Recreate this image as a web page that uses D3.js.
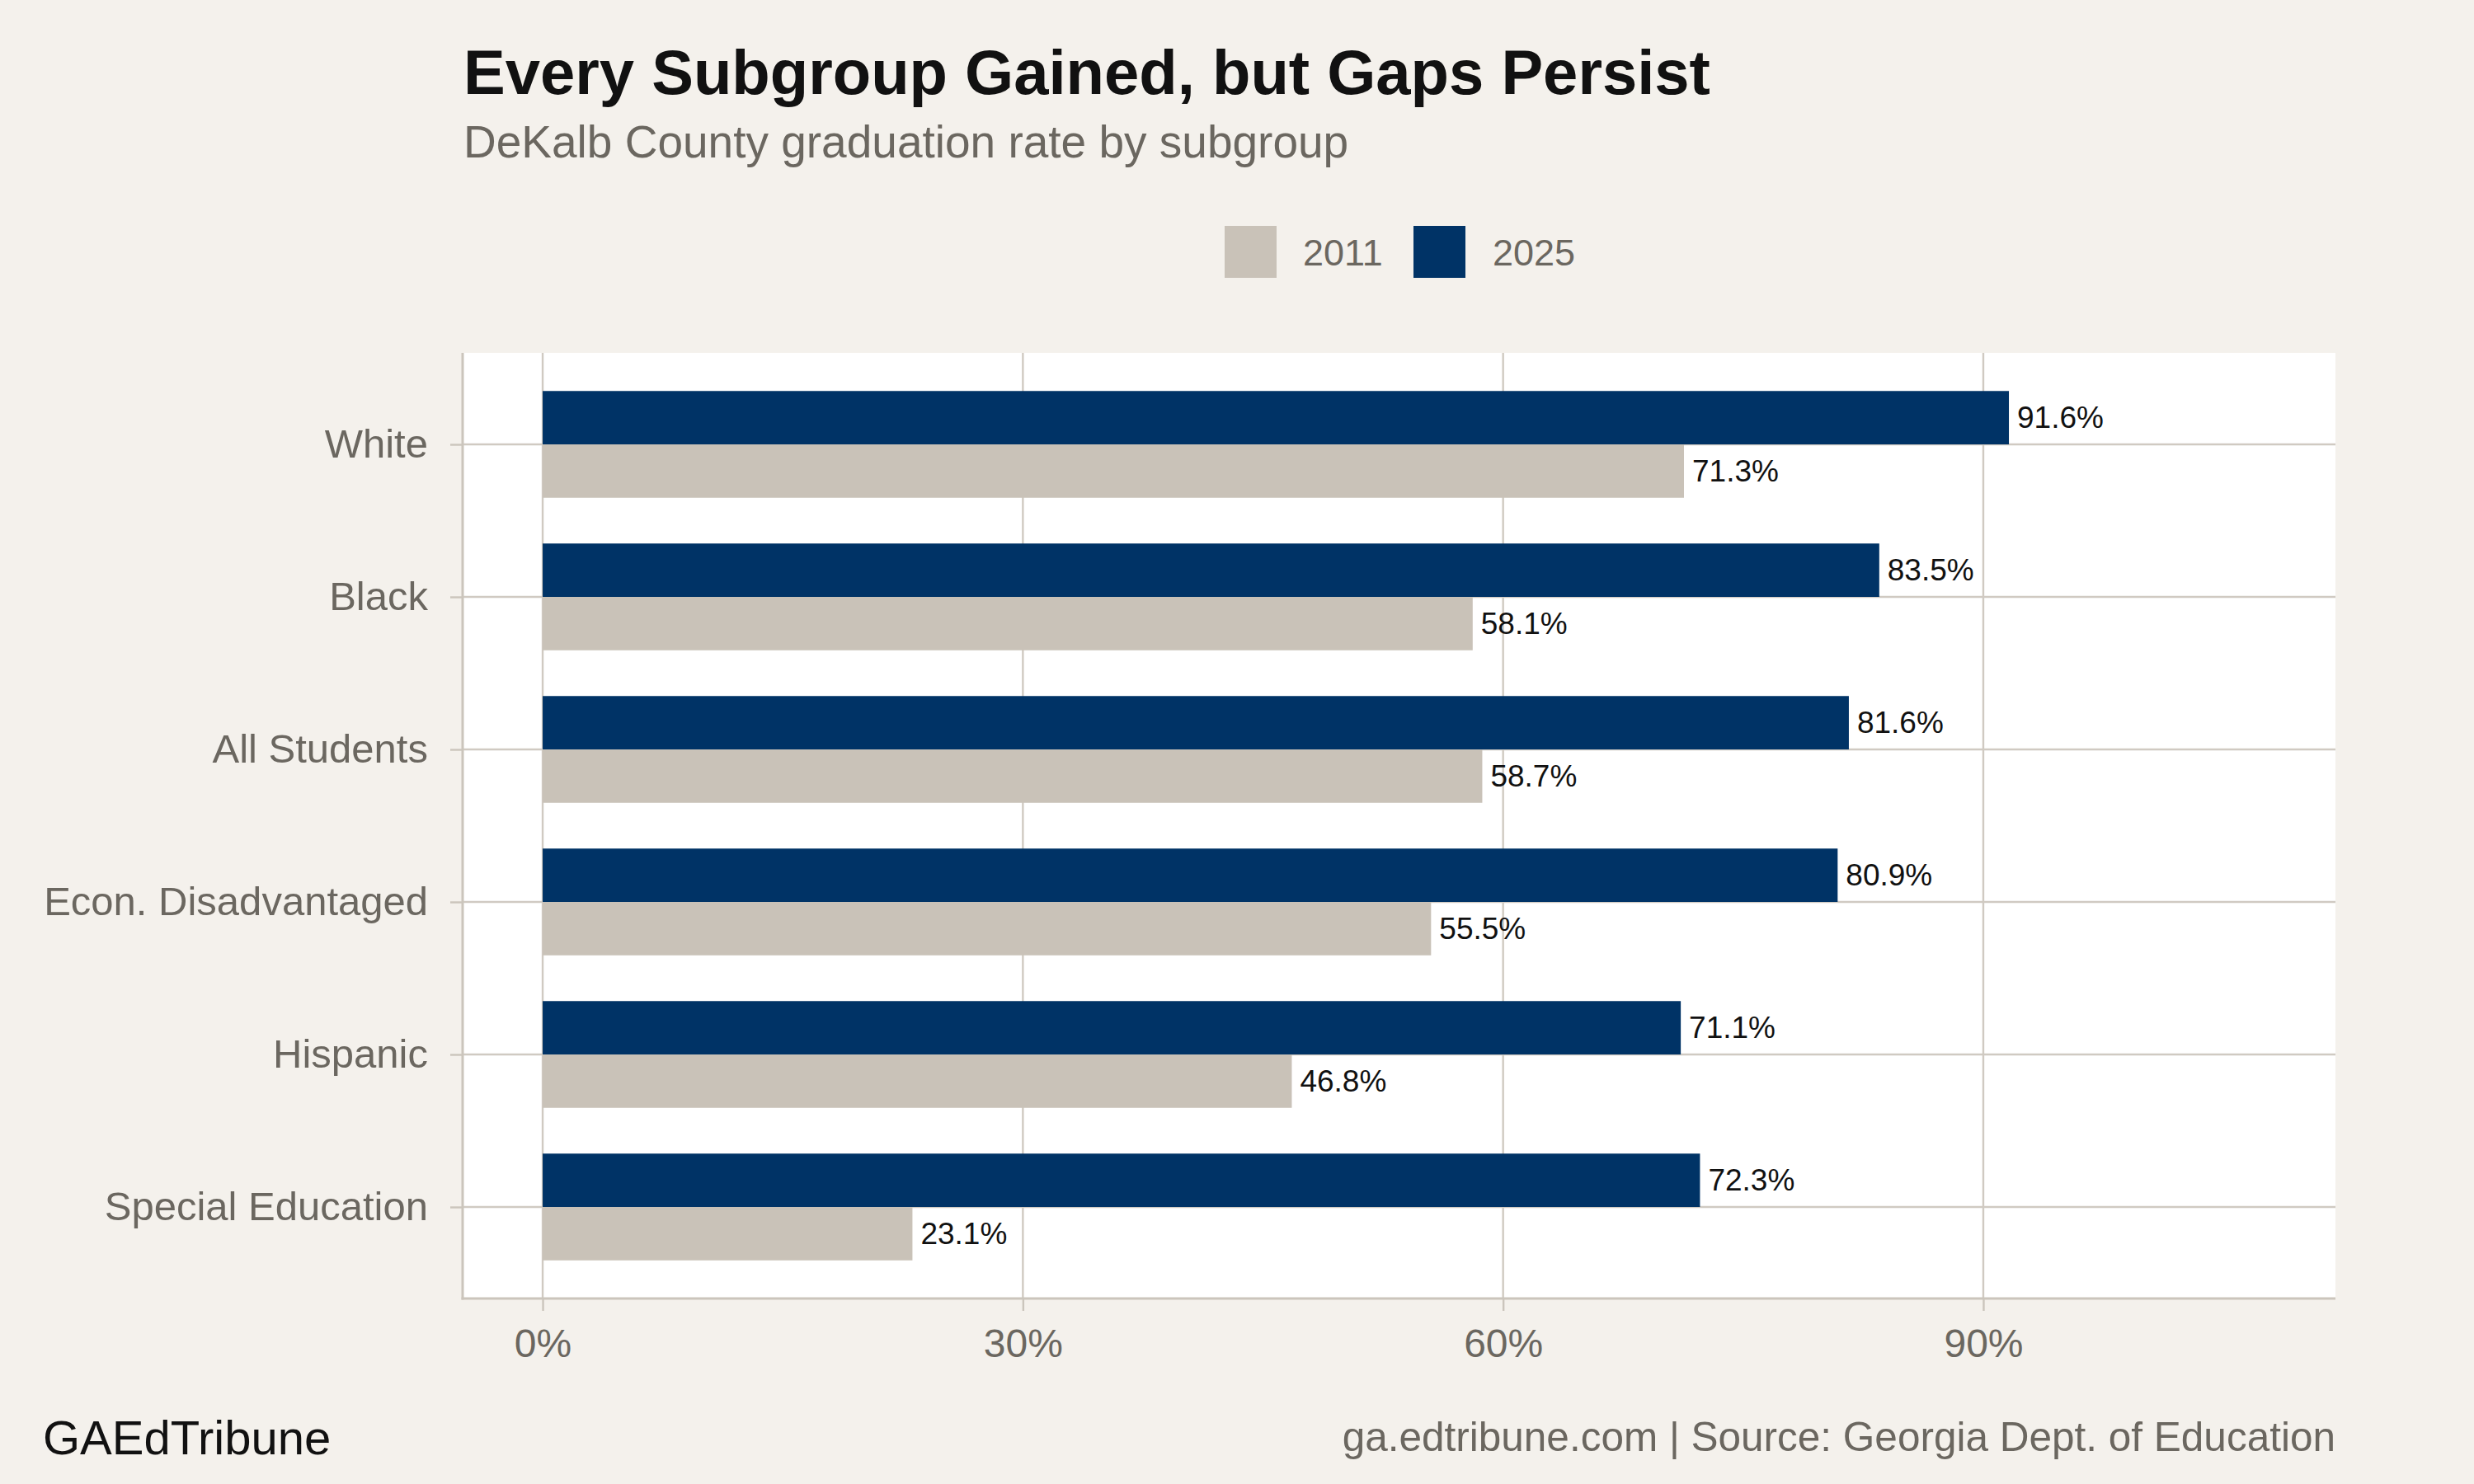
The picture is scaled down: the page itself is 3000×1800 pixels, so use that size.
<!DOCTYPE html>
<html>
<head>
<meta charset="utf-8">
<script src="https://cdn.jsdelivr.net/npm/d3@7"></script>
<style>
  html, body { margin: 0; padding: 0; background: #f4f1ec; }
  svg { display: block; }
  text { font-family: "Liberation Sans", Arial, Helvetica, sans-serif; }
</style>
</head>
<body>
<svg id="chart" width="3000" height="1800"></svg>
<script>
// ---- data ----
const categories = ["White", "Black", "All Students", "Econ. Disadvantaged", "Hispanic", "Special Education"];
const values2011 = [71.3, 58.1, 58.7, 55.5, 46.8, 23.1];
const values2025 = [91.6, 83.5, 81.6, 80.9, 71.1, 72.3];
const seriesNames = ["2011", "2025"];
const xTicks = [0, 30, 60, 90];
const xTickLabels = ["0%", "30%", "60%", "90%"];

const titleText = "Every Subgroup Gained, but Gaps Persist";
const subtitleText = "DeKalb County graduation rate by subgroup";
const brandText = "GAEdTribune";
const sourceText = "ga.edtribune.com | Source: Georgia Dept. of Education";

// ---- style ----
const W = 3000, H = 1800;
const bg = "#f4f1ec";
const colors = { "2011": "#c9c2b8", "2025": "#003366" };
const gridColor = "#d0cac2";
const axisColor = "#cbc5bc";
const mutedText = "#6b6760";

const panel = { left: 561, right: 2832, top: 428, bottom: 1575 };

const svg = d3.select("#chart");
svg.append("rect").attr("width", W).attr("height", H).attr("fill", bg);

const x = d3.scaleLinear().domain([-5, 112]).range([panel.left, panel.right]);
const y = d3.scalePoint().domain(categories).range([panel.top, panel.bottom]).padding(0.6);
const step = y.step();
const barH = step * 0.35;

// panel background
svg.append("rect")
  .attr("x", panel.left).attr("y", panel.top)
  .attr("width", panel.right - panel.left).attr("height", panel.bottom - panel.top)
  .attr("fill", "#ffffff");

// gridlines
const grid = svg.append("g");
grid.selectAll("line.v").data(xTicks).join("line")
  .attr("x1", d => x(d)).attr("x2", d => x(d))
  .attr("y1", panel.top).attr("y2", panel.bottom)
  .attr("stroke", gridColor).attr("stroke-width", 2.4);
grid.selectAll("line.h").data(categories).join("line")
  .attr("x1", panel.left).attr("x2", panel.right)
  .attr("y1", d => y(d)).attr("y2", d => y(d))
  .attr("stroke", gridColor).attr("stroke-width", 2.4);

// bars
const rows = categories.map((c, i) => ({ cat: c, v2011: values2011[i], v2025: values2025[i] }));
const bars = svg.append("g");
bars.selectAll("rect.b25").data(rows).join("rect")
  .attr("x", x(0)).attr("y", d => y(d.cat) - barH)
  .attr("width", d => x(d.v2025) - x(0)).attr("height", barH)
  .attr("fill", colors["2025"]);
bars.selectAll("rect.b11").data(rows).join("rect")
  .attr("x", x(0)).attr("y", d => y(d.cat))
  .attr("width", d => x(d.v2011) - x(0)).attr("height", barH)
  .attr("fill", colors["2011"]);

// value labels
const labels = svg.append("g").attr("font-size", 37).attr("fill", "#111");
labels.selectAll("text.l25").data(rows).join("text")
  .attr("x", d => x(d.v2025) + 10).attr("y", d => y(d.cat) - barH / 2)
  .attr("dominant-baseline", "central")
  .text(d => d.v2025.toFixed(1) + "%");
labels.selectAll("text.l11").data(rows).join("text")
  .attr("x", d => x(d.v2011) + 10).attr("y", d => y(d.cat) + barH / 2)
  .attr("dominant-baseline", "central")
  .text(d => d.v2011.toFixed(1) + "%");

// axes
const xAxis = d3.axisBottom(x).tickValues(xTicks).tickFormat((d, i) => xTickLabels[i])
  .tickSize(15).tickPadding(22);
const gx = svg.append("g").attr("transform", `translate(0,${panel.bottom})`).call(xAxis);
gx.select(".domain").remove();
gx.selectAll(".tick line").attr("stroke", axisColor).attr("stroke-width", 2.4);
gx.selectAll(".tick text").attr("fill", mutedText).attr("font-size", 48)
  .attr("font-family", "Liberation Sans, Arial, sans-serif");

const yAxis = d3.axisLeft(y).tickSize(15).tickPadding(27);
const gy = svg.append("g").attr("transform", `translate(${panel.left},0)`).call(yAxis);
gy.select(".domain").remove();
gy.selectAll(".tick line").attr("stroke", axisColor).attr("stroke-width", 2.4);
gy.selectAll(".tick text").attr("fill", mutedText).attr("font-size", 49)
  .attr("font-family", "Liberation Sans, Arial, sans-serif");

// axis lines
svg.append("line").attr("x1", panel.left).attr("x2", panel.left)
  .attr("y1", panel.top).attr("y2", panel.bottom + 1.5)
  .attr("stroke", axisColor).attr("stroke-width", 3);
svg.append("line").attr("x1", panel.left - 1.5).attr("x2", panel.right)
  .attr("y1", panel.bottom).attr("y2", panel.bottom)
  .attr("stroke", axisColor).attr("stroke-width", 3);

// title and subtitle
svg.append("text").attr("x", 562).attr("y", 114)
  .attr("font-size", 76).attr("font-weight", "bold").attr("fill", "#111")
  .text(titleText);
svg.append("text").attr("x", 562).attr("y", 191)
  .attr("font-size", 55).attr("fill", mutedText)
  .text(subtitleText);

// legend
const legendItems = [
  { name: seriesNames[0], sx: 1485, tx: 1580 },
  { name: seriesNames[1], sx: 1714, tx: 1810 }
];
const lg = svg.append("g");
lg.selectAll("rect").data(legendItems).join("rect")
  .attr("x", d => d.sx).attr("y", 274).attr("width", 63).attr("height", 63)
  .attr("fill", d => colors[d.name]);
lg.selectAll("text").data(legendItems).join("text")
  .attr("x", d => d.tx).attr("y", 306).attr("dominant-baseline", "central")
  .attr("font-size", 45).attr("fill", mutedText)
  .text(d => d.name);

// footer
svg.append("text").attr("x", 52).attr("y", 1764)
  .attr("font-size", 58).attr("fill", "#111").text(brandText);
svg.append("text").attr("x", 2832).attr("y", 1760).attr("text-anchor", "end")
  .attr("font-size", 49.5).attr("fill", mutedText).text(sourceText);
</script>
</body>
</html>
